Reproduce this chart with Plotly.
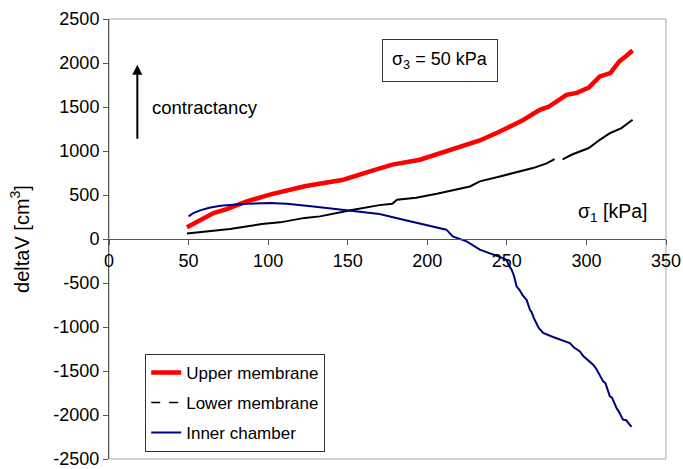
import plotly.graph_objects as go

# Upper membrane (red)
upper_x = [49, 57, 65.7, 74, 86.6, 101, 107.5, 123, 128.4, 147.3, 164, 178, 195.4, 205.6,
           226.8, 233, 245.6, 256, 260, 270.7, 276, 287.5, 294, 301.5, 308.4, 315, 320.7, 325, 329]
upper_y = [133, 215, 295, 340, 427, 504, 534, 600, 617, 674, 768, 845, 901, 960,
           1071, 1120, 1222, 1318, 1350, 1468, 1500, 1639, 1660, 1720, 1847, 1886, 2019, 2080, 2142]

# Lower membrane (black), gap between 280 and 285 kPa
lower_x = [49, 60, 76, 96, 107.5, 123, 132.6, 153.5, 170, 178, 181, 193, 206, 226.8, 233,
           245.6, 258, 266.4, 275, 280, None, 285, 291, 301.5, 308.4, 315, 322, 329]
lower_y = [62, 85, 114, 170, 189, 240, 257, 333, 385, 400, 446, 470, 515, 597, 655,
           711, 768, 806, 860, 909, None, 905, 960, 1034, 1127, 1205, 1260, 1355]

# Inner chamber (blue)
inner_x = [50, 53, 57.3, 63, 70, 86.6, 101.3, 111.7, 128.4, 149.4, 164, 170, 185, 196, 206, 212,
           216, 224.7, 233, 239.4, 245, 249.8, 251, 253, 254.5, 256.1, 258, 260, 262.4, 264.5,
           265.5, 267, 268.7, 270, 272.8, 279, 289.6, 292, 295.9, 298, 304.2, 306, 310.5, 312,
           314.7, 316, 318.9, 320, 323, 325, 328.3]
inner_y = [257, 295, 325, 355, 378, 401, 409, 401, 370, 325, 302, 284, 219, 170, 125, 106,
           30, -27, -121, -159, -200, -235, -290, -349, -420, -538, -580, -640, -690, -804,
           -830, -900, -955, -1010, -1068, -1114, -1182, -1230, -1277, -1330, -1428, -1470, -1618, -1640,
           -1788, -1800, -1920, -1950, -2053, -2060, -2136]

# Axis tick values and labels (hyphen-minus as in the reference)
y_tickvals = [2500, 2000, 1500, 1000, 500, 0, -500, -1000, -1500, -2000, -2500]
y_ticktext = ["2500", "2000", "1500", "1000", "500", "0", "-500", "-1000", "-1500", "-2000", "-2500"]
x_tickvals = [0, 50, 100, 150, 200, 250, 300, 350]
x_ticktext = ["0", "50", "100", "150", "200", "250", "300", "350"]

FONT = "Liberation Sans, Arial, sans-serif"

fig = go.Figure()
fig.add_trace(go.Scatter(x=upper_x, y=upper_y, mode="lines", name="Upper membrane",
                         line=dict(color="#ff0000", width=4.5), legendgroup="a"))
fig.add_trace(go.Scatter(x=lower_x, y=lower_y, mode="lines", name="Lower membrane",
                         line=dict(color="#000000", width=2), showlegend=False,
                         connectgaps=False))
fig.add_trace(go.Scatter(x=[None], y=[None], mode="lines", name="Lower membrane",
                         line=dict(color="#000000", width=1.5, dash="dash"), legendgroup="b"))
fig.add_trace(go.Scatter(x=inner_x, y=inner_y, mode="lines", name="Inner chamber",
                         line=dict(color="#000080", width=2), legendgroup="c"))

fig.update_layout(
    width=683, height=469,
    margin=dict(l=109, r=17, t=19, b=10),
    paper_bgcolor="white", plot_bgcolor="white",
    font=dict(family=FONT, size=18, color="black"),
    showlegend=True,
    legend=dict(x=0.065, y=0.239, xanchor="left", yanchor="top",
                bordercolor="#333333", borderwidth=1, bgcolor="white",
                font=dict(size=17), tracegroupgap=5, traceorder="grouped"),
    xaxis=dict(range=[0, 350], tickvals=x_tickvals, ticktext=x_ticktext,
               anchor="free", position=0.5, automargin=False,
               showline=True, linecolor="#555555", linewidth=1,
               ticks="outside", ticklen=5, tickcolor="#555555",
               showgrid=False, zeroline=False, tickfont=dict(size=18)),
    yaxis=dict(range=[-2500, 2500], tickvals=y_tickvals, ticktext=y_ticktext,
               automargin=False,
               showline=True, linecolor="#555555", linewidth=1,
               ticks="outside", ticklen=5, tickcolor="#555555",
               ticklabeloverflow="allow",
               showgrid=False, zeroline=False, tickfont=dict(size=18),
               title=dict(text="deltaV [cm<sup>3</sup>]", font=dict(size=20), standoff=18)),
    shapes=[dict(type="rect", xref="paper", yref="paper", x0=0, x1=1, y0=0, y1=1,
                 line=dict(color="#a6a6a6", width=1), layer="below")],
    annotations=[
        dict(x=17.8, y=1981, ax=17.8, ay=1121, xref="x", yref="y", axref="x", ayref="y",
             text="", showarrow=True, arrowhead=2, arrowsize=1, arrowwidth=2, arrowcolor="black"),
        dict(x=25.5, y=1500, xref="x", yref="y", text="contractancy", showarrow=False,
             xanchor="left", font=dict(size=18.5)),
        dict(x=208, y=2025, xref="x", yref="y", text="σ<sub>3</sub> = 50 kPa", showarrow=False,
             font=dict(size=18), bordercolor="#333333", borderwidth=1, borderpad=9,
             bgcolor="white"),
        dict(x=316.5, y=299, xref="x", yref="y", text="σ<sub>1</sub> [kPa]", showarrow=False,
             font=dict(size=19.5)),
    ],
)

fig.write_html("out.html")
